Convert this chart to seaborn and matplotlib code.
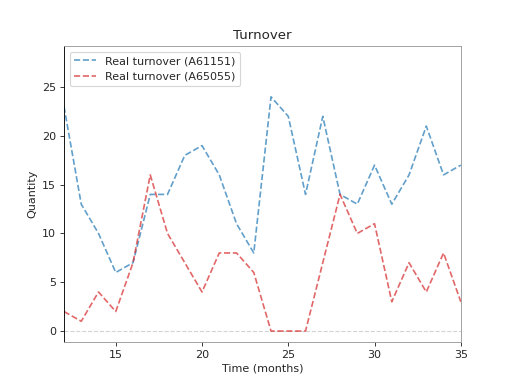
import pandas as pd
import matplotlib
matplotlib.use("Agg")
import matplotlib.pyplot as plt
import seaborn as sns

sns.set_style("ticks")
plt.rcParams["font.family"] = ["DejaVu Sans"]

# Meses observados
months = list(range(12, 36))

# Rotatividade real por agência
turnover_a61151 = [23, 13, 10, 6, 7, 14, 14, 18, 19, 16, 11, 8,
                   24, 22, 14, 22, 14, 13, 17, 13, 16, 21, 16, 17]
turnover_a65055 = [2, 1, 4, 2, 7, 16, 10, 7, 4, 8, 8, 6,
                   0, 0, 0, 7, 14, 10, 11, 3, 7, 4, 8, 3]

df = pd.DataFrame({
    "month": months * 2,
    "qty": turnover_a61151 + turnover_a65055,
    "serie": ["Real turnover (A61151)"] * len(months)
             + ["Real turnover (A65055)"] * len(months),
})

fig, ax = plt.subplots(figsize=(6.4, 4.8), dpi=80)

ax.axhline(0, color="lightgray", linestyle="--", linewidth=1, zorder=0)

sns.lineplot(
    data=df, x="month", y="qty", hue="serie",
    palette=["#1f77b4", "#d62728"], linestyle="--", alpha=0.7,
    linewidth=1.5, ax=ax,
)

ax.set_xlim(12, 35)
ax.set_ylim(-1.1, 29.2)
ax.set_title("Turnover")
ax.set_xlabel("Time (months)")
ax.set_ylabel("Quantity")

for s in ["top", "right", "bottom"]:
    ax.spines[s].set_color("#999999")
ax.spines["left"].set_color("black")

leg = ax.legend(loc="upper left", title=None)
for line in leg.get_lines():
    line.set_linestyle("--")

plt.savefig("out.png", dpi=80)
